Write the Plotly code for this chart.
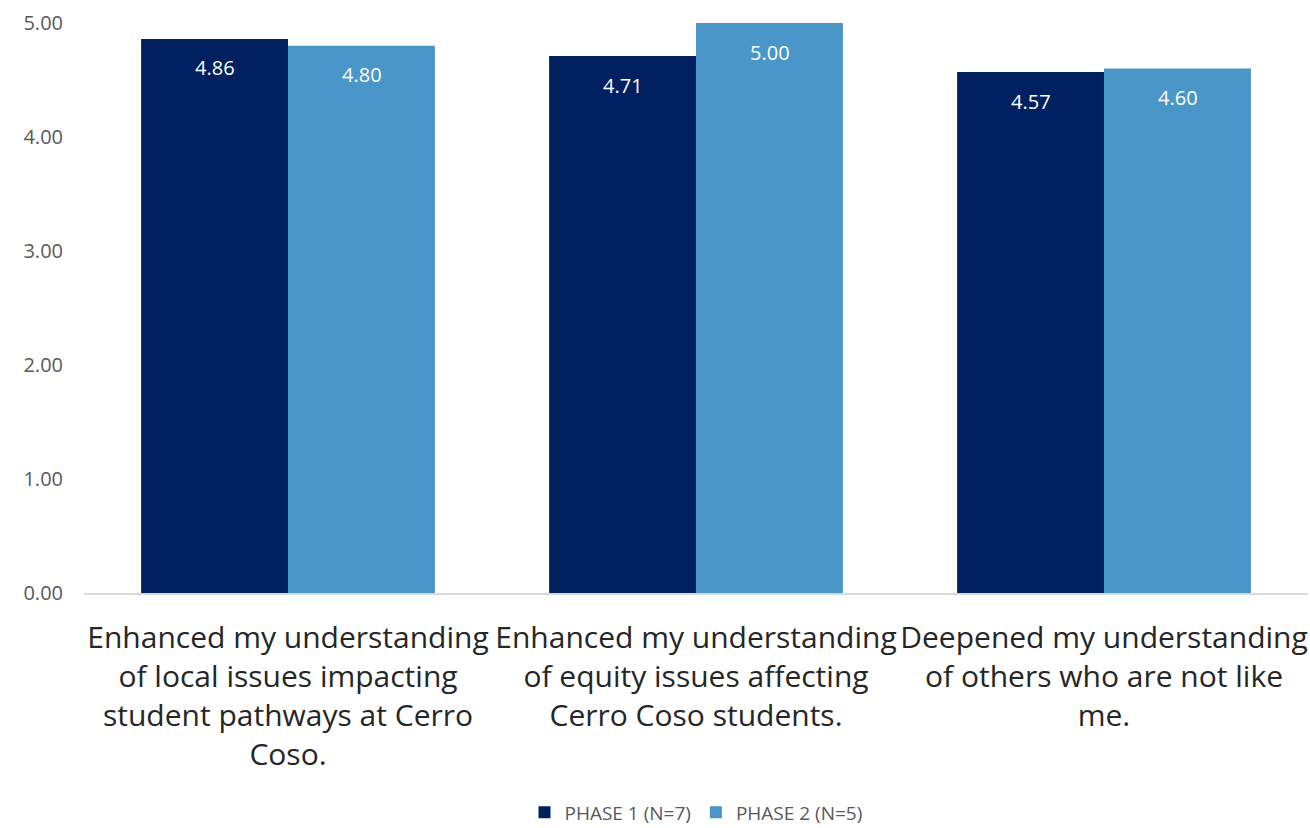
import plotly.graph_objects as go

categories = [
    "Enhanced my understanding<br>of local issues impacting<br>student pathways at Cerro<br>Coso.",
    "Enhanced my understanding<br>of equity issues affecting<br>Cerro Coso students.",
    "Deepened my understanding<br>of others who are not like<br>me.",
]
phase1 = [4.86, 4.71, 4.57]
phase2 = [4.80, 5.00, 4.60]
series_names = ["PHASE 1 (N=7)", "PHASE 2 (N=5)"]
tick_vals = [0, 1, 2, 3, 4, 5]

dark = "#002060"
light = "#4A96C8"
FONT = "Open Sans"

fig = go.Figure()
fig.add_trace(go.Bar(x=categories, y=phase1, name=series_names[0], marker_color=dark,
                     marker_line_width=0))
fig.add_trace(go.Bar(x=categories, y=phase2, name=series_names[1], marker_color=light,
                     marker_line_width=0))

bar_px = 147
annotations = []
for vals, shift in ((phase1, -bar_px / 2), (phase2, bar_px / 2)):
    for c, v in zip(categories, vals):
        annotations.append(dict(x=c, y=v, xref="x", yref="y", text=f"{v:.2f}",
                                showarrow=False, xshift=shift, yshift=-29,
                                font=dict(family=FONT, size=20, color="white")))

fig.update_layout(
    width=1310, height=828,
    margin=dict(l=84, r=2, t=23, b=235, autoexpand=False),
    paper_bgcolor="white", plot_bgcolor="white",
    barmode="group", bargap=0.28, bargroupgap=0,
    annotations=annotations,
    font=dict(family=FONT, color="#595959"),
    legend=dict(orientation="h", x=0.5, xanchor="center", y=-0.385, yanchor="middle",
                yref="paper", font=dict(family=FONT, size=19, color="#595959"),
                itemwidth=30, traceorder="normal"),
    showlegend=True,
)
fig.update_yaxes(range=[0, 5], tickvals=tick_vals, tickformat=".2f", showgrid=False,
                 zeroline=False, showline=False, ticks="", ticklabelstandoff=20,
                 automargin=False,
                 tickfont=dict(family=FONT, size=20, color="#595959"))
fig.update_xaxes(showgrid=False, showline=True, linecolor="#D9D9D9", linewidth=2,
                 ticks="", ticklabelstandoff=17, automargin=False,
                 tickfont=dict(family=FONT, size=30, color="#262626"))

fig.write_html("out.html")
